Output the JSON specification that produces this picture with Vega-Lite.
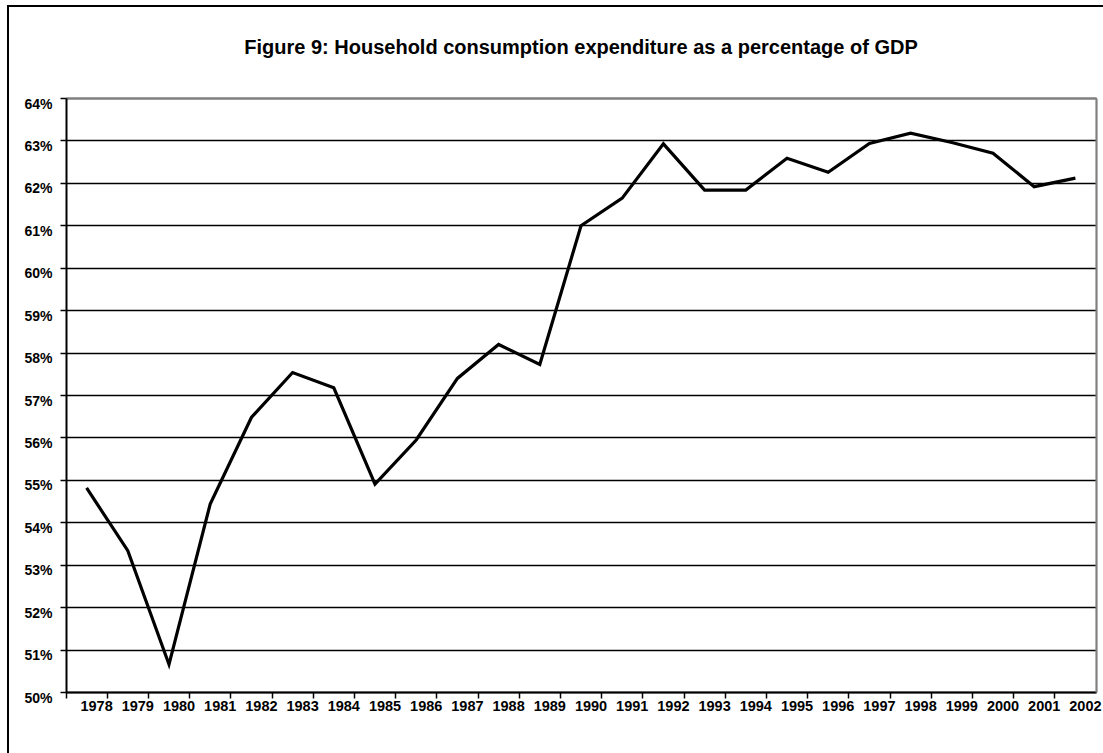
{
  "$schema": "https://vega.github.io/schema/vega-lite/v6.json",
  "autosize": {"type": "none"},
  "padding": {"left": 8, "top": 6, "right": -2, "bottom": -2},
  "width": 1097,
  "height": 749,
  "background": "white",
  "config": {
    "view": {"stroke": "black", "strokeWidth": 2},
    "font": "Liberation Sans",
    "axis": {"labelFont": "Liberation Sans", "labelFontWeight": "bold", "labelFontSize": 14, "labelColor": "black", "titleFontSize": 0}
  },
  "title": {
    "text": "Figure 9: Household consumption expenditure as a percentage of GDP",
    "font": "Liberation Sans",
    "fontSize": 20,
    "fontWeight": "bold",
    "color": "black",
    "anchor": "middle",
    "frame": "group",
    "orient": "top",
    "offset": -52,
    "dx": 24.5
  },
  "data": {
    "values": [
      {"year": 1978, "pct": 54.81},
      {"year": 1979, "pct": 53.33},
      {"year": 1980, "pct": 50.65},
      {"year": 1981, "pct": 54.43},
      {"year": 1982, "pct": 56.47},
      {"year": 1983, "pct": 57.53},
      {"year": 1984, "pct": 57.17},
      {"year": 1985, "pct": 54.90},
      {"year": 1986, "pct": 55.94},
      {"year": 1987, "pct": 57.39},
      {"year": 1988, "pct": 58.19},
      {"year": 1989, "pct": 57.72},
      {"year": 1990, "pct": 60.99},
      {"year": 1991, "pct": 61.64},
      {"year": 1992, "pct": 62.92},
      {"year": 1993, "pct": 61.83},
      {"year": 1994, "pct": 61.83},
      {"year": 1995, "pct": 62.58},
      {"year": 1996, "pct": 62.25},
      {"year": 1997, "pct": 62.93},
      {"year": 1998, "pct": 63.17},
      {"year": 1999, "pct": 62.95},
      {"year": 2000, "pct": 62.70},
      {"year": 2001, "pct": 61.91},
      {"year": 2002, "pct": 62.11}
    ]
  },
  "resolve": {"axis": {"x": "independent", "y": "independent"}},
  "layer": [
    {
      "mark": {"type": "line", "color": "black", "strokeWidth": 3.2, "strokeJoin": "miter"},
      "encoding": {
        "x": {
          "field": "year", "type": "ordinal", "bandPosition": 0.5,
          "scale": {"type": "band", "paddingInner": 0, "paddingOuter": 0, "range": [58, 1088]},
          "axis": {"orient": "bottom", "offset": -63, "title": null, "labels": false, "bandPosition": 0,
                   "ticks": true, "tickSize": 6, "tickColor": "black", "tickWidth": 1.5,
                   "domain": true, "domainColor": "black", "domainWidth": 2, "grid": false}
        },
        "y": {
          "field": "pct", "type": "quantitative",
          "scale": {"domain": [50, 64], "range": [686, 92], "nice": false, "zero": false},
          "axis": {"orient": "left", "offset": -58, "title": null,
                   "values": [50, 51, 52, 53, 54, 55, 56, 57, 58, 59, 60, 61, 62, 63, 64],
                   "labelExpr": "datum.value + '%'", "labelBaseline": "top", "labelOffset": -1, "labelPadding": 8,
                   "ticks": true, "tickSize": 6, "tickColor": "black", "tickWidth": 1.5,
                   "domain": true, "domainColor": "black", "domainWidth": 2,
                   "grid": true, "gridColor": "black", "gridWidth": 1.4, "gridOpacity": 1}
        }
      }
    },
    {
      "mark": {"type": "line", "opacity": 0},
      "encoding": {
        "x": {
          "field": "year", "type": "ordinal", "bandPosition": 0.5,
          "axis": {"orient": "top", "offset": -92, "title": null, "labels": false, "ticks": false,
                   "domain": true, "domainColor": "#808080", "domainWidth": 2.2, "grid": false}
        },
        "y": {
          "field": "pct", "type": "quantitative",
          "axis": {"orient": "right", "offset": -9, "title": null, "labels": false, "ticks": false,
                   "domain": true, "domainColor": "#808080", "domainWidth": 2.2, "grid": false}
        }
      }
    },
    {
      "mark": {"type": "line", "opacity": 0},
      "encoding": {
        "x": {
          "field": "year", "type": "ordinal", "bandPosition": 0.5,
          "axis": {"orient": "bottom", "offset": -63, "title": null, "labelAngle": 0, "labelPadding": 7,
                   "labelOffset": 10, "labelFontSize": 14.5, "labelBaseline": "top", "ticks": false, "domain": false, "grid": false}
        },
        "y": {"field": "pct", "type": "quantitative", "axis": null}
      }
    }
  ]
}
